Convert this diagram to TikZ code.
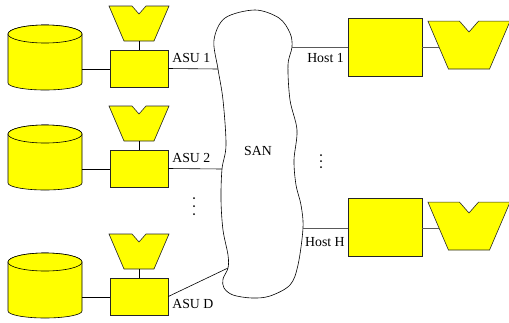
\documentclass[tikz,border=0pt]{standalone}
\usepackage{fontspec}
\setmainfont{Liberation Serif}
\definecolor{unityellow}{RGB}{255,255,0}
\begin{document}
\begin{tikzpicture}[x=1pt,y=-1pt,line width=0.6pt,
  unit/.style={rectangle, draw=black!85, fill=unityellow, minimum width=58pt, minimum height=37pt, inner sep=0pt},
  hostbox/.style={unit, minimum width=74pt, minimum height=58pt},
  tank/.style={draw=black, fill=unityellow},
  funnel/.style={draw=black!85, fill=unityellow},
  lbl/.style={font=\fontsize{13.8}{16}\selectfont, inner sep=0pt},
  wire/.style={draw=black},
  hwire/.style={draw=black!65}]
\useasboundingbox (0,0) rectangle (509,322);
% disks:
\foreach \o/\n in {0/1,100/2,228/D}{
\filldraw[tank, shift={(0,\o)}] (8,34) -- (8,83) arc[start angle=180,end angle=0,x radius=37,y radius=7] -- (82,34) arc[start angle=0,end angle=-180,x radius=37,y radius=9] -- cycle;
\draw[tank, shift={(0,\o)}] (45,34) ellipse[x radius=37,y radius=9];
\coordinate (d\n) at (82,69+\o);
% funnels above the units:
\filldraw[funnel, shift={(139,41+\o)}] (-30,-35) -- (-7,-35) -- (0,-27) -- (7,-35) -- (30,-35) -- (15,0) -- (-15,0) -- cycle;
\coordinate (f\n) at (139,41+\o);
}
% the SAN cloud:
\coordinate (s1) at (218,69);
\coordinate (s2) at (222,169);
\coordinate (sD) at (228,268);
\coordinate (t1) at (292,47);
\coordinate (tH) at (303,228);
\draw[smooth cycle, tension=0.55] plot coordinates {(255,10) (279,18) (290,33) (t1) (288,65) (290,100) (297,130) (294,160) (296,185) (301,205) (tH) (298,265) (290,285) (270,296) (252,298) (233,295) (224,288) (223,279) (sD) (228,255) (223,230) (221,200) (s2) (226,145) (223,100) (s1) (214,40) (225,18)};
\node[lbl, anchor=base] (san) at (258,155) {SAN};
% ASUs:
\node[unit] (a1) at (139,68.5) {};
\node[unit] (a2) at (139,168.5) {};
\node[unit] (aD) at (139,296.5) {};
\draw[wire] (d1) -- (a1.west |- d1);
\draw[wire] (d2) -- (a2.west |- d2);
\draw[wire] (dD) -- (aD.west |- dD);
\draw[wire] (a1.north) -- (f1);
\draw[wire] (a2.north) -- (f2);
\draw[wire] (aD.north) -- (fD);
\draw[wire] (a1.east) -- (s1);
\draw[wire] (a2.east) -- (s2);
\draw[wire] (aD.east) -- (sD);
\node[lbl, anchor=base west] (l1) at (172,62) {ASU 1};
\node[lbl, anchor=base west] (l2) at (172,162) {ASU 2};
\node[lbl, anchor=base west] (lD) at (172,308) {ASU D};
\foreach \y in {198,206,214} \fill (194,\y) circle[radius=1pt];
% hosts:
\node[hostbox] (h1) at (385,47) {};
\node[hostbox] (hH) at (385,227.5) {};
\filldraw[funnel, shift={(469,69)}, scale=1.37] (-30,-35) -- (-7,-35) -- (0,-27) -- (7,-35) -- (30,-35) -- (15,0) -- (-15,0) -- cycle;
\filldraw[funnel, shift={(469,250)}, scale=1.37] (-30,-35) -- (-7,-35) -- (0,-27) -- (7,-35) -- (30,-35) -- (15,0) -- (-15,0) -- cycle;
\coordinate (g1) at (439,47);
\coordinate (gH) at (439,228);
\draw[hwire] (t1) -- (h1.west |- t1);
\draw[hwire] (tH) -- (hH.west |- tH);
\draw[hwire] (h1.east |- g1) -- (g1);
\draw[hwire] (hH.east |- gH) -- (gH);
\node[lbl, anchor=base east] (m1) at (344,62) {Host 1};
\node[lbl, anchor=base east] (mH) at (345,246) {Host H};
\foreach \y in {155,161,167} \fill (321,\y) circle[radius=1pt];
\end{tikzpicture}
\end{document}
